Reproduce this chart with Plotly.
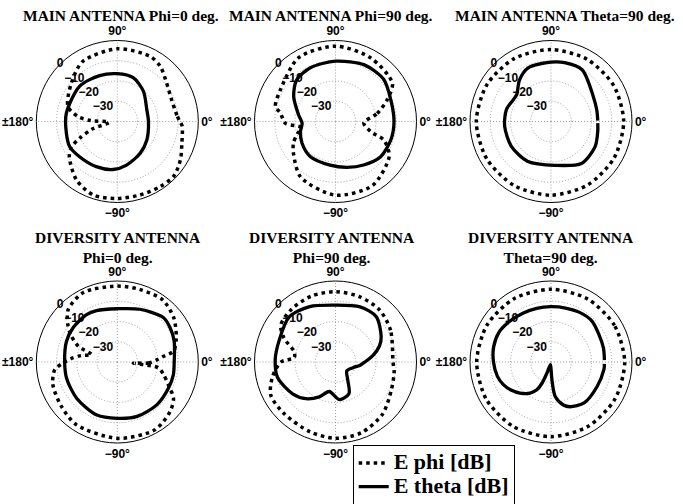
import plotly.graph_objects as go

W, H = 683, 504

# ---------------- data (dB versus angle in degrees) ----------------
# MAIN ANTENNA Phi=0 deg.
m0_theta_ang = [0, 22, 49, 70, 90, 111, 137, 171, 193, 208, 223, 245, 265, 282, 306, 328, 360]
m0_theta_db = [-24.6, -24.3, -20.3, -17.0, -16.4, -15.7, -14.5, -14.5, -14.2, -13.4, -14.5, -15.4, -16.2, -18.0, -20.7, -22.8, -24.6]
m0_phi_ang = [0, 6, 22, 38, 52, 63, 90, 120, 140, 163, 173, 178, 185, 197, 204, 209, 216, 235, 252, 270, 287, 303, 316, 329, 341, 356, 360]
m0_phi_db = [-9.1, -10.4, -11.1, -9.1, -5.5, -4.0, -4.1, -5.8, -10.4, -14.5, -20.5, -26.8, -35.9, -26.8, -19.7, -14.2, -10.7, -4.8, -1.8, -2.0, -2.0, -1.5, -1.2, -3.6, -6.3, -7.9, -9.1]

# MAIN ANTENNA Phi=90 deg.
m90_theta_ang = [0, 21, 41, 63, 90, 115, 133, 149, 170, 183, 196, 213, 234, 263, 284, 303, 322, 342, 360]
m90_theta_db = [-11.1, -10.7, -8.4, -8.6, -10.2, -10.7, -11.9, -15.9, -21.5, -23.5, -22.0, -20.3, -18.7, -18.3, -16.7, -14.4, -11.7, -11.2, -11.1]
m90_phi_ang = [-3, 11, 23, 34, 61, 90, 120, 150, 166, 171, 182, 190, 198, 207, 217, 238, 270, 300, 327, 339, 344, 357]
m90_phi_db = [-26.0, -19.0, -12.2, -6.1, -4.1, -2.8, -3.6, -8.6, -9.4, -12.4, -15.2, -22.8, -20.2, -16.7, -14.0, -7.6, -3.6, -3.5, -8.4, -14.4, -22.0, -26.0]

# MAIN ANTENNA Theta=90 deg.
mt_theta_ang = [1, 14, 31, 59, 77, 90, 113, 127, 142, 150, 165, 186, 212, 240, 275, 306, 330, 348, 358]
mt_theta_db = [-16.9, -16.7, -15.7, -10.2, -10.2, -10.7, -11.2, -14.2, -18.5, -18.5, -17.2, -17.0, -16.9, -17.2, -18.3, -14.4, -14.9, -16.4, -16.9]
mt_phi_ang = [0, 30, 60, 90, 120, 150, 180, 210, 240, 270, 300, 330, 360]
mt_phi_db = [-4.1, -4.3, -4.5, -4.5, -4.0, -3.5, -3.1, -3.3, -3.5, -3.6, -3.8, -4.0, -4.1]

# DIVERSITY ANTENNA Phi=0 deg.
d0_theta_ang = [0, 20, 33, 44, 67, 90, 112, 123, 142, 158, 180, 198, 222, 249, 270, 290, 313, 333, 347, 360]
d0_theta_db = [-11.9, -10.1, -8.9, -8.4, -11.7, -13.7, -12.6, -12.1, -12.4, -12.9, -14.0, -13.7, -13.1, -11.9, -12.2, -11.4, -11.2, -11.6, -11.6, -11.9]
d0_phi_ang = [-4, -2, 3, 7, 11, 22, 38, 54, 73, 90, 116, 133, 143, 150, 158, 164, 170, 176, 181, 187, 199, 218, 237, 270, 299, 317, 327, 336, 345, 352, 356]
d0_phi_db = [-32.1, -24.6, -20.5, -17.0, -11.7, -8.6, -4.6, -2.0, -2.5, -2.5, -1.8, -4.5, -9.4, -13.6, -19.2, -26.8, -21.8, -16.9, -13.2, -8.9, -6.3, -4.8, -3.0, -2.3, -1.7, -4.3, -6.9, -12.4, -16.4, -19.5, -32.1]

# DIVERSITY ANTENNA Phi=90 deg.
d90_theta_ang = [0, 10, 20, 29, 48, 66, 90, 115, 136, 159, 178, 195, 217, 231, 245, 258, 276, 293, 304, 322, 342, 352, 360]
d90_theta_db = [-25.5, -21.2, -16.9, -14.2, -9.9, -10.2, -11.9, -9.8, -8.1, -10.2, -10.2, -10.4, -13.7, -16.7, -21.0, -25.1, -21.3, -23.0, -29.1, -32.9, -30.9, -27.9, -25.5]
d90_phi_ang = [0, 30, 50, 70, 90, 110, 130, 146, 155, 166, 174, 180, 193, 207, 225, 250, 270, 290, 312, 333, 350, 360]
d90_phi_db = [-11.6, -8.6, -6.3, -5.6, -5.3, -5.3, -6.1, -7.4, -11.9, -19.0, -19.5, -13.1, -8.1, -4.1, -4.0, -3.3, -2.3, -2.8, -5.3, -9.1, -10.6, -11.6]

# DIVERSITY ANTENNA Theta=90 deg.
dt_theta_ang = [2, 15, 30, 45, 60, 75, 90, 105, 120, 135, 150, 165, 180, 195, 205, 215, 225, 236, 243, 247, 250, 256, 270, 273, 277, 286, 293, 309, 332, 352, 358]
dt_theta_db = [-13.6, -13.2, -12.7, -11.4, -11.7, -12.4, -12.7, -12.6, -12.2, -11.4, -10.4, -10.7, -11.6, -12.6, -13.9, -15.9, -18.3, -21.5, -24.6, -28.6, -34.2, -38.7, -36.7, -31.2, -22.8, -17.9, -16.0, -14.0, -14.2, -13.6, -13.6]
dt_phi_ang = [0, 30, 60, 90, 120, 150, 180, 210, 240, 270, 300, 330, 360]
dt_phi_db = [-3.6, -3.8, -4.0, -4.1, -3.8, -3.5, -3.3, -3.1, -3.1, -3.1, -3.3, -3.5, -3.6]

titles = ["MAIN ANTENNA Phi=0 deg.", "MAIN ANTENNA Phi=90 deg.", "MAIN ANTENNA Theta=90 deg.",
          "DIVERSITY ANTENNA<br>Phi=0 deg.", "DIVERSITY ANTENNA<br>Phi=90 deg.", "DIVERSITY ANTENNA<br>Theta=90 deg."]
radial_ticks = [-30, -20, -10, 0]
radial_labels = ["\u221230", "\u221220", "\u221210", "0"]
angular_ticks = [0, 90, 180, 270]
angular_labels = ["0\u00b0", "90\u00b0", "\u00b1180\u00b0", "\u221290\u00b0"]
legend_names = ["E phi [dB]", "E theta [dB]"]

series = [
    (m0_phi_ang, m0_phi_db, m0_theta_ang, m0_theta_db),
    (m90_phi_ang, m90_phi_db, m90_theta_ang, m90_theta_db),
    (mt_phi_ang, mt_phi_db, mt_theta_ang, mt_theta_db),
    (d0_phi_ang, d0_phi_db, d0_theta_ang, d0_theta_db),
    (d90_phi_ang, d90_phi_db, d90_theta_ang, d90_theta_db),
    (dt_phi_ang, dt_phi_db, dt_theta_ang, dt_theta_db),
]

# ---------------- layout constants ----------------
centers = [(117.3, 121.5), (335.5, 121.5), (551.0, 121.5),
           (117.3, 362.0), (335.5, 362.0), (551.0, 362.0)]
RAD = 81
LABEL_ANGLE = 135
title_pos = [(121, 15), (331, 15), (565, 15), (118, 247), (332, 247), (551, 247)]

tickfont = dict(family="Liberation Sans", size=12, color="black", weight="bold")
titlefont = dict(family="Liberation Serif", size=15.5, color="black", weight="bold")


def legend_label(txt):
    # larger glyphs than the legend row pitch
    return '<span style="font-size:22px">' + txt + "</span>"


fig = go.Figure()
layout = {}
for i, (pa, pdb, ta, tdb) in enumerate(series):
    name = "polar" if i == 0 else f"polar{i+1}"
    # ring labels drawn first so the curves lie over them
    fig.add_trace(go.Scatterpolar(
        r=radial_ticks, theta=[LABEL_ANGLE] * len(radial_ticks), mode="text",
        text=radial_labels, textfont=tickfont, textposition="middle center",
        subplot=name, showlegend=False, hoverinfo="skip", cliponaxis=False))
    fig.add_trace(go.Scatterpolar(
        theta=pa, r=pdb, mode="lines", subplot=name, name=legend_label(legend_names[0]),
        showlegend=(i == 0), legendrank=1,
        line=dict(color="black", width=3.5, dash="3.5px,4px", shape="spline", smoothing=0.8)))
    fig.add_trace(go.Scatterpolar(
        theta=ta, r=tdb, mode="lines", subplot=name, name=legend_label(legend_names[1]),
        showlegend=(i == 0), legendrank=2,
        line=dict(color="black", width=3.3, shape="spline", smoothing=0.8)))
    cx, cy = centers[i]
    layout[name] = dict(
        domain=dict(x=[(cx - RAD) / W, (cx + RAD) / W], y=[1 - (cy + RAD) / H, 1 - (cy - RAD) / H]),
        bgcolor="white",
        radialaxis=dict(range=[-40, 0], tickvals=radial_ticks, showticklabels=False,
                        angle=LABEL_ANGLE, showline=False, ticks="",
                        gridcolor="#a0a0a0", griddash="1px,2px", gridwidth=1),
        angularaxis=dict(tickvals=angular_ticks, ticktext=angular_labels, direction="counterclockwise",
                         rotation=0, showline=True, linecolor="black", linewidth=1, ticks="",
                         gridcolor="#a0a0a0", griddash="1px,2px", gridwidth=1, tickfont=tickfont),
    )

annotations = []
for (tx, ty), t in zip(title_pos, titles):
    annotations.append(dict(text=t, x=tx / W, y=1 - ty / H, xref="paper", yref="paper",
                            xanchor="center", yanchor="middle", showarrow=False, font=titlefont))

fig.update_layout(
    width=W, height=H, margin=dict(l=0, r=0, t=0, b=0, autoexpand=False),
    paper_bgcolor="white", plot_bgcolor="white",
    annotations=annotations,
    legend=dict(x=352.7 / W, y=1 - 445 / H, xanchor="left", yanchor="top",
                bgcolor="white", bordercolor="black", borderwidth=1,
                font=dict(family="Liberation Serif", size=16, color="black", weight="bold"),
                tracegroupgap=0, itemwidth=30),
    **layout,
)
fig.write_html("out.html", config={"displayModeBar": False},
               post_script="document.body.style.margin='0';")
